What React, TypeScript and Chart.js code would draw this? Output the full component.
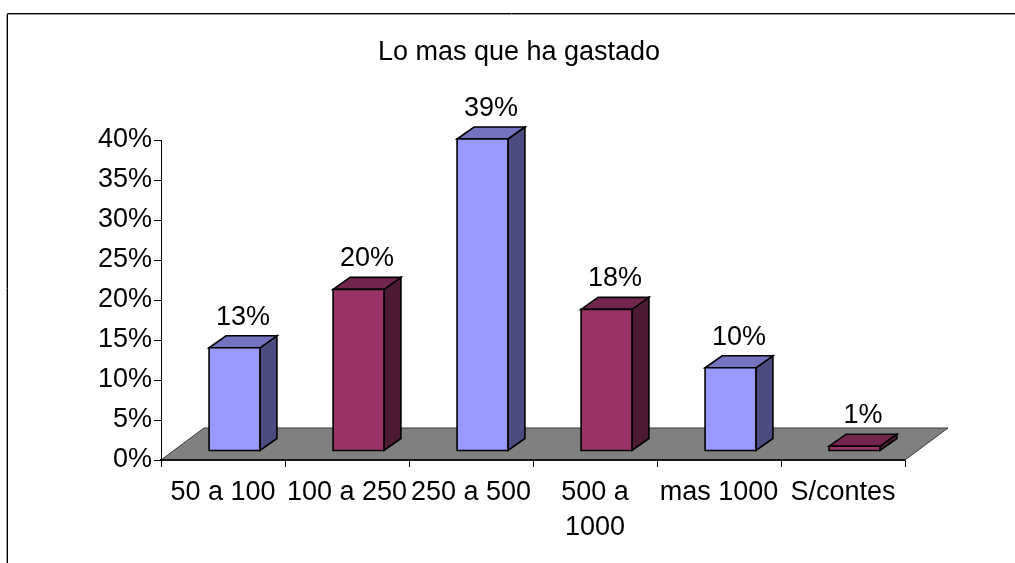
import React, { useEffect, useRef } from "react";
import { Chart, registerables } from "chart.js";

Chart.register(...registerables);

// ---- data ----
const chartTitle = "Lo mas que ha gastado";
const categories = ["50 a 100", "100 a 250", "250 a 500", "500 a 1000", "mas 1000", "S/contes"];
const values = [12.9, 20.2, 39.0, 17.7, 10.4, 0.6];
const yMin = 0;
const yMax = 40;
const yStep = 5;

// ---- styles ----
const FONT = "'Liberation Sans', Arial, sans-serif";
const FONT_SIZE = 27;
const FRONT = ["#9999FF", "#993366"];
const TOP = ["#7373BF", "#73264D"];
const SIDE = ["#4C4C80", "#4D1A33"];
const FLOOR = "#808080";

// 3D projection offsets
const floorDepth = { dx: 43, dy: -32 };
const barShift = { dx: 11.5, dy: -9 };
const barDepth = { dx: 17, dy: -12 };

const pct = (v: number) => `${Math.round(v)}%`;

const wrapLabel = (s: string) => {
  if (s.length > 9) {
    const i = s.lastIndexOf(" ");
    return [s.slice(0, i), s.slice(i + 1)];
  }
  return s;
};

const box3d = {
  id: "box3d",
  beforeDraw(chart: any) {
    const ctx = chart.ctx;
    ctx.save();
    ctx.lineWidth = 1;
    ctx.strokeStyle = "#000";
    ctx.beginPath();
    ctx.moveTo(7.5, 563);
    ctx.lineTo(7.5, 13.5);
    ctx.lineTo(1015, 13.5);
    ctx.stroke();
    ctx.strokeStyle = "#9a9a9a";
    ctx.beginPath();
    ctx.moveTo(6.5, 563);
    ctx.lineTo(6.5, 14.5);
    ctx.moveTo(8, 14.5);
    ctx.lineTo(1015, 14.5);
    ctx.stroke();
    ctx.restore();
  },
  beforeDatasetsDraw(chart: any) {
    const ctx = chart.ctx;
    const { left, right } = chart.chartArea;
    const y0 = chart.scales.y.getPixelForValue(0);
    ctx.save();
    ctx.beginPath();
    ctx.moveTo(left, y0);
    ctx.lineTo(right, y0);
    ctx.lineTo(right + floorDepth.dx, y0 + floorDepth.dy);
    ctx.lineTo(left + floorDepth.dx, y0 + floorDepth.dy);
    ctx.closePath();
    ctx.fillStyle = FLOOR;
    ctx.fill();
    ctx.lineWidth = 1;
    ctx.strokeStyle = "#3a3a3a";
    ctx.stroke();
    ctx.beginPath();
    ctx.moveTo(left, y0);
    ctx.lineTo(right, y0);
    ctx.strokeStyle = "#000";
    ctx.lineWidth = 1.5;
    ctx.stroke();
    ctx.restore();
  },
  afterDatasetsDraw(chart: any) {
    const ctx = chart.ctx;
    const meta = chart.getDatasetMeta(0);
    ctx.save();
    ctx.lineJoin = "miter";
    ctx.lineWidth = 1.6;
    ctx.strokeStyle = "#000";
    meta.data.forEach((el: any, i: number) => {
      const { x, y, base, width } = el.getProps(["x", "y", "base", "width"], true);
      const c = i % 2;
      const x0 = x - width / 2 + barShift.dx;
      const x1 = x + width / 2 + barShift.dx;
      const yt = y + barShift.dy;
      const yb = base + barShift.dy;
      const dx = barDepth.dx;
      const dy = barDepth.dy;
      ctx.beginPath();
      ctx.moveTo(x1, yt);
      ctx.lineTo(x1 + dx, yt + dy);
      ctx.lineTo(x1 + dx, yb + dy);
      ctx.lineTo(x1, yb);
      ctx.closePath();
      ctx.fillStyle = SIDE[c];
      ctx.fill();
      ctx.stroke();
      ctx.beginPath();
      ctx.moveTo(x0, yt);
      ctx.lineTo(x1, yt);
      ctx.lineTo(x1 + dx, yt + dy);
      ctx.lineTo(x0 + dx, yt + dy);
      ctx.closePath();
      ctx.fillStyle = TOP[c];
      ctx.fill();
      ctx.stroke();
      ctx.beginPath();
      ctx.rect(x0, yt, x1 - x0, yb - yt);
      ctx.fillStyle = FRONT[c];
      ctx.fill();
      ctx.stroke();
      ctx.fillStyle = "#000";
      ctx.font = `${FONT_SIZE}px ${FONT}`;
      ctx.textAlign = "center";
      ctx.textBaseline = "alphabetic";
      ctx.fillText(pct(values[i]), (x0 + x1) / 2 + dx / 2, yt + dy - 11);
    });
    ctx.restore();
  },
};

export default function App() {
  const ref = useRef<HTMLCanvasElement | null>(null);

  useEffect(() => {
    if (!ref.current) return;
    const chart = new Chart(ref.current, {
      type: "bar",
      data: {
        labels: categories,
        datasets: [
          {
            data: values,
            backgroundColor: "rgba(0,0,0,0)",
            borderWidth: 0,
            categoryPercentage: 1,
            barPercentage: 0.41,
          },
        ],
      },
      options: {
        responsive: false,
        animation: false,
        layout: { padding: { left: 23, right: 0, top: 0, bottom: 0 } },
        plugins: {
          legend: { display: false },
          tooltip: { enabled: false },
          title: {
            display: true,
            text: chartTitle,
            color: "#000",
            font: { family: FONT, size: FONT_SIZE, weight: "normal", lineHeight: 1.2 },
            padding: { top: 36, bottom: 71.6 },
          },
        },
        scales: {
          x: {
            grid: {
              offset: true,
              drawOnChartArea: false,
              drawTicks: true,
              tickLength: 7,
              color: "#000",
              lineWidth: 1,
            },
            border: { display: true, color: "#000", width: 1.5 },
            ticks: {
              autoSkip: false,
              maxRotation: 0,
              minRotation: 0,
              color: "#000",
              padding: 8,
              font: { family: FONT, size: FONT_SIZE, lineHeight: 1.3 },
              callback: (_v: any, i: number) => wrapLabel(categories[i]),
            },
            afterFit: (s: any) => {
              s.height = 103;
            },
          },
          y: {
            min: yMin,
            max: yMax,
            grid: {
              drawOnChartArea: false,
              drawTicks: true,
              tickLength: 7,
              color: "#000",
              lineWidth: 1,
            },
            border: { display: true, color: "#000", width: 1 },
            ticks: {
              stepSize: yStep,
              color: "#000",
              padding: 2,
              font: { family: FONT, size: FONT_SIZE },
              callback: (v: any) => `${v}%`,
            },
            afterFit: (s: any) => {
              s.width = 138;
            },
          },
          rightSpace: {
            type: "linear",
            position: "right",
            display: true,
            grid: { display: false },
            border: { display: false },
            ticks: { display: false },
            afterFit: (s: any) => {
              s.width = 110;
            },
          },
        },
      },
      plugins: [box3d],
    });
    return () => chart.destroy();
  }, []);

  return (
    <div style={{ position: "absolute", left: 0, top: 0, width: 1015, height: 563 }}>
      <canvas ref={ref} width={1015} height={563} style={{ display: "block" }} />
    </div>
  );
}
